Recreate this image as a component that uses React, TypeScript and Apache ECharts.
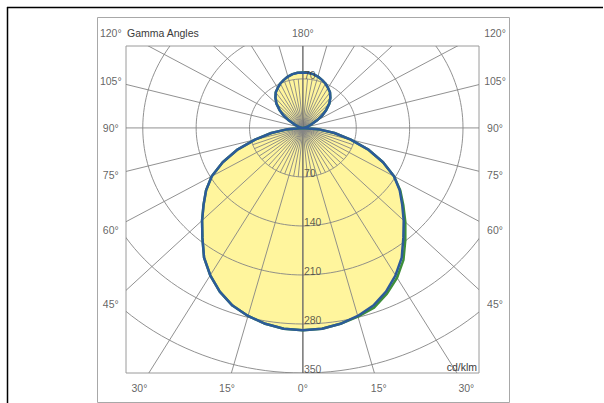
import React, { useEffect, useRef } from "react";
import * as echarts from "echarts";

// Gamma angles (degrees, 0 = straight down, 180 = straight up)
const gammaAngles = [0, 5, 10, 15, 20, 25, 30, 35, 40, 45, 50, 55, 60, 65, 70, 75, 80, 85, 90, 95, 100, 105, 110, 115, 120, 125, 130, 135, 140, 145, 150, 155, 160, 165, 170, 175, 180];

// Luminous intensity (cd/klm) per plane
const intensityC0 = [289, 288, 284, 278, 270, 258, 243, 226, 205, 187, 170, 155, 138, 116, 92, 65, 42, 20, 0, 1, 3, 5, 8, 13, 21, 31, 40, 49, 56, 62, 66, 70, 73, 76, 78, 79, 79];
const intensityC180 = [289, 288, 284, 278, 270, 258, 243, 226, 205, 187, 170, 155, 138, 116, 92, 65, 42, 20, 0, 1, 3, 5, 8, 13, 21, 31, 40, 49, 56, 62, 66, 70, 73, 76, 78, 79, 79];
const intensityC90 = [289, 288, 284, 279, 273, 261, 247, 230, 209, 190, 172, 156, 138, 116, 92, 65, 42, 20, 0, 1, 3, 5, 8, 13, 21, 31, 40, 49, 56, 62, 66, 70, 73, 76, 78, 79, 79];
const intensityC270 = [289, 288, 284, 278, 270, 258, 243, 226, 205, 187, 170, 155, 138, 116, 92, 65, 42, 20, 0, 1, 3, 5, 8, 13, 21, 31, 40, 49, 56, 62, 66, 70, 73, 76, 78, 79, 79];

// Grid / tick values
const radialTicks = [70, 140, 210, 280, 350];
const radialTicksUp = [70];
const majorAngleStep = 15;
const minorAngleStep = 5;
const sideAngleLabels = [45, 60, 75, 90, 105, 120];
const bottomAngleLabels = [-30, -15, 0, 15, 30];
const topAngleLabels = [180];
const titleText = "Gamma Angles";
const unitText = "cd/klm";

// axis extents (data units, cd/klm)
const X_MIN = -232;
const X_MAX = 231;
const Y_MIN = -350;
const Y_MAX = 117;
const LABEL_X = 252;
const LABEL_TOP = 135.7;
const LABEL_BOTTOM = -371.3;

const FONT = "'Liberation Sans', Arial, Helvetica, sans-serif";
const GRID_COLOR = "#858585";
const TEXT_COLOR = "#3a3a3a";

const rad = (d: number) => (d * Math.PI) / 180;

function toXY(gamma: number, value: number, side: number): [number, number] {
  return [side * value * Math.sin(rad(gamma)), -value * Math.cos(rad(gamma))];
}

function outline(right: number[], left: number[]): [number, number][] {
  const pts: [number, number][] = [];
  for (let i = 0; i < gammaAngles.length; i++) pts.push(toXY(gammaAngles[i], right[i], 1));
  for (let i = gammaAngles.length - 1; i >= 0; i--) pts.push(toXY(gammaAngles[i], left[i], -1));
  return pts;
}

// intensity reached by the drawn curves at a full-circle angle a (0..360, clockwise from down on the right side)
function curveReach(a: number): number {
  const right = a <= 180;
  const g = right ? a : 360 - a;
  const i = gammaAngles.indexOf(g);
  if (i < 0) return 0;
  return right ? Math.max(intensityC0[i], intensityC90[i]) : Math.max(intensityC180[i], intensityC270[i]);
}

export default function App() {
  const ref = useRef<HTMLDivElement>(null);

  useEffect(() => {
    if (!ref.current) return;
    const chart = echarts.init(ref.current, undefined, { renderer: "svg" });

    const bluePts = outline(intensityC0, intensityC180);
    const greenPts = outline(intensityC90, intensityC270);

    const angleLabelData: { value: [number, number]; name: string }[] = [];
    sideAngleLabels.forEach((g) => {
      [-1, 1].forEach((s) => {
        let y = g === 90 ? 0 : (-LABEL_X * Math.cos(rad(g))) / Math.sin(rad(g));
        if (y > LABEL_TOP) y = LABEL_TOP;
        angleLabelData.push({ value: [s * LABEL_X, y], name: `${g}°` });
      });
    });
    bottomAngleLabels.forEach((g) => {
      angleLabelData.push({ value: [-LABEL_BOTTOM * Math.tan(rad(g)), LABEL_BOTTOM], name: `${Math.abs(g)}°` });
    });
    topAngleLabels.forEach((g) => {
      angleLabelData.push({ value: [0, LABEL_TOP], name: `${g}°` });
    });

    const radialLabelData = [
      ...radialTicks.map((r) => ({ value: [0, -r], name: String(r) })),
      ...radialTicksUp.map((r) => ({ value: [0, r], name: String(r) })),
    ];

    const option: any = {
      animation: false,
      backgroundColor: "#ffffff",
      grid: {
        left: 126,
        top: 46,
        width: 353,
        height: 327,
        show: true,
        borderColor: "#9a9a9a",
        borderWidth: 1,
        backgroundColor: "transparent",
      },
      xAxis: { type: "value", min: X_MIN, max: X_MAX, show: false },
      yAxis: { type: "value", min: Y_MIN, max: Y_MAX, show: false },
      graphic: [
        {
          type: "rect",
          shape: { x: 97.5, y: 17.5, width: 412, height: 385 },
          style: { fill: "none", stroke: "#a8a8a8", lineWidth: 1 },
          silent: true,
        },
        {
          type: "line",
          shape: { x1: 7, y1: 7.5, x2: 603, y2: 7.5 },
          style: { stroke: "#000", lineWidth: 1.5 },
          silent: true,
        },
        {
          type: "line",
          shape: { x1: 7.5, y1: 7, x2: 7.5, y2: 403 },
          style: { stroke: "#000", lineWidth: 1.5 },
          silent: true,
        },
        {
          type: "text",
          x: 127,
          y: 33,
          style: {
            text: titleText,
            fill: TEXT_COLOR,
            fontSize: 10.5,
            fontFamily: FONT,
            align: "left",
            verticalAlign: "middle",
            textAlign: "left",
            textVerticalAlign: "middle",
          },
        },
        {
          type: "text",
          x: 477,
          y: 367,
          z: 10,
          style: {
            text: unitText,
            fill: TEXT_COLOR,
            fontSize: 10.5,
            fontFamily: FONT,
            align: "right",
            verticalAlign: "middle",
            textAlign: "right",
            textVerticalAlign: "middle",
          },
        },
      ],
      series: [
        {
          type: "custom",
          coordinateSystem: "cartesian2d",
          silent: true,
          clip: true,
          z: 1,
          data: [[0, 0]],
          renderItem: (_p: any, api: any) => {
            const pts = bluePts.map((p) => api.coord(p));
            return {
              type: "polygon",
              shape: { points: pts },
              style: { fill: "#fff59d", stroke: "none" },
            };
          },
        },
        {
          type: "custom",
          coordinateSystem: "cartesian2d",
          silent: true,
          clip: true,
          z: 2,
          data: [[0, 0]],
          renderItem: (_p: any, api: any) => {
            const children: any[] = [];
            radialTicks.forEach((r) => {
              const pts: number[][] = [];
              for (let a = 0; a <= 360; a += 2) pts.push(api.coord(toXY(a, r, 1)));
              children.push({
                type: "polyline",
                shape: { points: pts },
                style: { stroke: GRID_COLOR, lineWidth: 0.9, fill: "none" },
              });
            });
            const c = api.coord([0, 0]);
            for (let a = 0; a < 360; a += minorAngleStep) {
              const major = a % majorAngleStep === 0;
              const len = major ? 700 : Math.min(radialTicks[0], curveReach(a));
              if (len <= 0) continue;
              const e = api.coord(toXY(a, len, 1));
              const axis = a === 0 || a === 180;
              children.push({
                type: "line",
                shape: { x1: c[0], y1: c[1], x2: e[0], y2: e[1] },
                style: {
                  stroke: axis ? "#6a6a6a" : GRID_COLOR,
                  lineWidth: axis ? 1.4 : 0.9,
                },
              });
            }
            return { type: "group", children };
          },
        },
        {
          type: "line",
          data: greenPts,
          showSymbol: false,
          symbol: "none",
          silent: true,
          z: 3,
          lineStyle: { color: "#3f8f3a", width: 2.5, join: "round" },
        },
        {
          type: "line",
          data: bluePts,
          showSymbol: false,
          symbol: "none",
          silent: true,
          z: 4,
          lineStyle: { color: "#2c5b99", width: 2.5, join: "round" },
        },
        {
          type: "scatter",
          data: radialLabelData,
          symbolSize: 0,
          clip: false,
          silent: true,
          z: 5,
          itemStyle: { color: "transparent" },
          label: {
            show: true,
            position: "right",
            distance: 1,
            offset: [0, -4],
            formatter: "{b}",
            color: TEXT_COLOR,
            fontSize: 10.5,
            fontFamily: FONT,
          },
        },
        {
          type: "scatter",
          data: angleLabelData,
          symbolSize: 0,
          clip: false,
          silent: true,
          z: 5,
          itemStyle: { color: "transparent" },
          label: {
            show: true,
            position: "inside",
            formatter: "{b}",
            color: TEXT_COLOR,
            fontSize: 10.5,
            fontFamily: FONT,
          },
        },
      ],
    };

    chart.setOption(option);
    return () => chart.dispose();
  }, []);

  return (
    <div
      ref={ref}
      style={{ position: "fixed", left: 0, top: 0, width: 604, height: 403, background: "#fff" }}
    />
  );
}
